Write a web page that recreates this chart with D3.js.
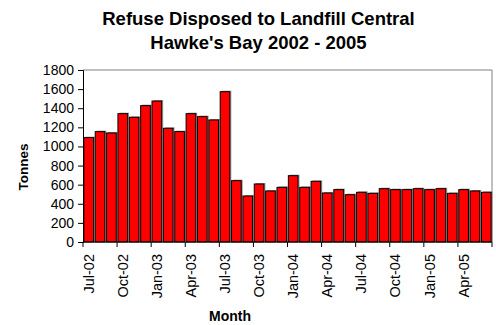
<!DOCTYPE html>
<html>
<head>
<meta charset="utf-8">
<script src="https://cdn.jsdelivr.net/npm/d3@7"></script>
<style>
  body { margin: 0; background: #fff; }
  text { font-family: Arial, "Liberation Sans", sans-serif; }
</style>
</head>
<body>
<div id="chart"></div>
<script>
// ========= Data ========= //
const months = [
  'Jul-02', 'Aug-02', 'Sep-02', 'Oct-02', 'Nov-02', 'Dec-02',
  'Jan-03', 'Feb-03', 'Mar-03', 'Apr-03', 'May-03', 'Jun-03',
  'Jul-03', 'Aug-03', 'Sep-03', 'Oct-03', 'Nov-03', 'Dec-03',
  'Jan-04', 'Feb-04', 'Mar-04', 'Apr-04', 'May-04', 'Jun-04',
  'Jul-04', 'Aug-04', 'Sep-04', 'Oct-04', 'Nov-04', 'Dec-04',
  'Jan-05', 'Feb-05', 'Mar-05', 'Apr-05', 'May-05', 'Jun-05'
];
const tonnes = [
  1092, 1155, 1141, 1343, 1305, 1427,
  1475, 1190, 1155, 1343, 1312, 1277,
  1573, 642, 481, 607, 534, 572,
  694, 572, 635, 513, 548, 495,
  520, 509, 558, 548, 548, 558,
  548, 558, 509, 548, 534, 520
];
const yTicks = [0, 200, 400, 600, 800, 1000, 1200, 1400, 1600, 1800];
const titleLines = ['Refuse Disposed to Landfill Central', "Hawke's Bay 2002 - 2005"];

// ========= Layout ========= //
const width = 496, height = 325;
const plot = { left: 83, right: 492, top: 70, bottom: 242 };

const svg = d3.select('#chart').append('svg')
  .attr('width', width)
  .attr('height', height);

// ========= Scales ========= //
const x = d3.scaleBand()
  .domain(months)
  .range([plot.left, plot.right])
  .paddingInner(0.15)
  .paddingOuter(0.075);

const y = d3.scaleLinear()
  .domain([0, 1800])
  .range([plot.bottom, plot.top]);

// ========= Title ========= //
svg.append('g')
  .selectAll('text')
  .data(titleLines)
  .join('text')
  .attr('x', 258.5)
  .attr('y', (d, i) => 25 + i * 23.5)
  .attr('text-anchor', 'middle')
  .attr('font-size', '18.5px')
  .attr('font-weight', 'bold')
  .text((d) => d);

// ========= Plot frame ========= //
svg.append('path')
  .attr('d', `M${plot.left},${plot.top}H${plot.right}V${plot.bottom}`)
  .attr('fill', 'none')
  .attr('stroke', '#808080')
  .attr('stroke-width', 1);

// ========= Bars ========= //
const bars = svg.append('g').attr('class', 'bars');

// gray drop shadow behind each bar
bars.selectAll('.shadow')
  .data(tonnes)
  .join('rect')
  .attr('class', 'shadow')
  .attr('x', (d, i) => x(months[i]) + 1.5)
  .attr('y', (d) => y(d) - 1)
  .attr('width', x.bandwidth())
  .attr('height', (d) => y(0) - y(d) + 1)
  .attr('fill', '#999');

bars.selectAll('.bar')
  .data(tonnes)
  .join('rect')
  .attr('class', 'bar')
  .attr('x', (d, i) => x(months[i]))
  .attr('y', (d) => y(d))
  .attr('width', x.bandwidth())
  .attr('height', (d) => y(0) - y(d))
  .attr('fill', '#ff0000')
  .attr('stroke', '#000')
  .attr('stroke-width', 1);

// ========= Y axis ========= //
const yAxis = svg.append('g')
  .attr('transform', `translate(${plot.left},0)`)
  .call(d3.axisLeft(y).tickValues(yTicks).tickFormat(d3.format('d')).tickSize(5).tickPadding(4));

yAxis.select('.domain').attr('stroke', '#000');
yAxis.selectAll('text')
  .attr('font-size', '14px')
  .attr('font-family', 'Arial, "Liberation Sans", sans-serif')
  .attr('fill', '#000');

// ========= X axis ========= //
const step = x.step();
const xAxis = svg.append('g').attr('class', 'x-axis');

xAxis.append('line')
  .attr('x1', plot.left).attr('x2', plot.right)
  .attr('y1', plot.bottom).attr('y2', plot.bottom)
  .attr('stroke', '#000');

// ticks sit between categories, one every quarter
const tickIdx = d3.range(0, months.length + 1, 3);
xAxis.selectAll('.xtick')
  .data(tickIdx)
  .join('line')
  .attr('class', 'xtick')
  .attr('x1', (i) => plot.left + i * step)
  .attr('x2', (i) => plot.left + i * step)
  .attr('y1', plot.bottom)
  .attr('y2', plot.bottom + 5)
  .attr('stroke', '#000');

xAxis.selectAll('.xlabel')
  .data(months.filter((d, i) => i % 3 === 0))
  .join('text')
  .attr('class', 'xlabel')
  .attr('transform', (d) => `translate(${x(d) + x.bandwidth() / 2 + 5},${plot.bottom + 12}) rotate(-90)`)
  .attr('text-anchor', 'end')
  .attr('font-size', '14.5px')
  .text((d) => d);

// ========= Axis titles ========= //
svg.append('text')
  .attr('transform', 'translate(27.5,167) rotate(-90)')
  .attr('text-anchor', 'middle')
  .attr('font-size', '13.5px')
  .attr('font-weight', 'bold')
  .text('Tonnes');

svg.append('text')
  .attr('x', 230)
  .attr('y', 321)
  .attr('text-anchor', 'middle')
  .attr('font-size', '14px')
  .attr('font-weight', 'bold')
  .text('Month');
</script>
</body>
</html>
